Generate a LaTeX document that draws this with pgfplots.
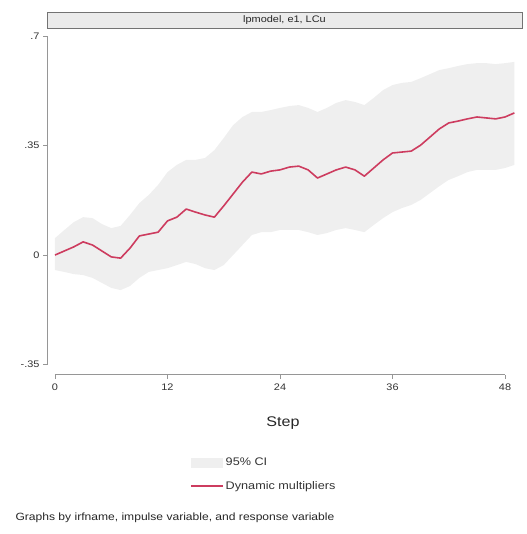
\documentclass[border=0pt]{standalone}
\usepackage{fontspec}
\setmainfont[FakeStretch=1.15]{Liberation Sans}
\usepackage{pgfplots}
\pgfplotsset{compat=1.18}
\usepackage{pgfplotstable}
\usepgfplotslibrary{fillbetween}
\definecolor{ci}{RGB}{239,239,239}
\definecolor{irf}{RGB}{205,60,95}
\definecolor{axgray}{RGB}{150,150,150}

\pgfplotstableread{
step lo up irf
0 -0.048 0.054 0.000
1 -0.054 0.080 0.013
2 -0.061 0.105 0.026
3 -0.064 0.121 0.042
4 -0.073 0.118 0.032
5 -0.089 0.099 0.013
6 -0.105 0.086 -0.006
7 -0.112 0.093 -0.010
8 -0.099 0.128 0.022
9 -0.073 0.166 0.061
10 -0.054 0.192 0.067
11 -0.048 0.224 0.073
12 -0.042 0.265 0.109
13 -0.032 0.288 0.121
14 -0.022 0.304 0.147
15 -0.029 0.304 0.137
16 -0.042 0.310 0.128
17 -0.048 0.335 0.121
18 -0.032 0.374 0.157
19 0.000 0.415 0.195
20 0.032 0.441 0.233
21 0.064 0.457 0.265
22 0.073 0.457 0.259
23 0.073 0.463 0.268
24 0.080 0.470 0.272
25 0.080 0.476 0.281
26 0.080 0.479 0.284
27 0.073 0.470 0.272
28 0.064 0.457 0.246
29 0.070 0.470 0.259
30 0.080 0.486 0.272
31 0.086 0.495 0.281
32 0.080 0.489 0.272
33 0.073 0.479 0.252
34 0.096 0.502 0.278
35 0.118 0.527 0.304
36 0.137 0.543 0.326
37 0.150 0.550 0.329
38 0.160 0.553 0.332
39 0.176 0.565 0.351
40 0.198 0.578 0.377
41 0.220 0.591 0.403
42 0.240 0.597 0.422
43 0.252 0.604 0.428
44 0.265 0.610 0.435
45 0.272 0.613 0.441
46 0.272 0.613 0.438
47 0.272 0.610 0.435
48 0.278 0.613 0.441
49 0.288 0.617 0.454
}\irfdata

\begin{document}
\begin{tikzpicture}
\begin{axis}[
  at={(0,0)}, anchor=south west,
  x=9.375pt, y=313pt,
  xmin=-0.853, xmax=49.8, ymin=-0.382, ymax=0.725,
  axis lines*=left, axis line style={draw=none},
  xtick={0,12,24,36,48},
  ytick={-0.35,0,0.35,0.7},
  yticklabels={-.35,0,.35,.7},
  /pgf/number format/assume math mode=true,
  tick align=outside,
  major tick length=4pt,
  tick style={axgray, line width=0.6pt},
  ticklabel style={font=\fontsize{9.5}{10}\selectfont, text=black!80},
  xticklabel style={yshift=-2pt},
  xlabel={Step},
  xlabel style={at={(axis description cs:0.497,-0.1397)}, anchor=center, font=\fontsize{14}{16}\selectfont, text=black!85},
  legend style={at={(axis description cs:0.301,-0.235)}, anchor=north west, draw=none, fill=none,
    font=\fontsize{11}{12}\selectfont, inner sep=0pt, row sep=10pt, text=black!80},
  legend cell align=left,
  clip=false,
]
\addplot[name path=up, draw=none, forget plot] table[x=step, y=up] {\irfdata};
\addplot[name path=lo, draw=none, forget plot] table[x=step, y=lo] {\irfdata};
\addplot[fill=ci, draw=none, area legend,
  legend image code/.code={\fill[ci] (0pt,-5pt) rectangle (32pt,5pt);}] fill between[of=up and lo];
\addlegendentry{95\% CI}
\addplot[irf, line width=1.6pt, line join=round,
  legend image code/.code={\draw[irf, line width=1.6pt] (0pt,0pt) -- (32pt,0pt);}] table[x=step, y=irf] {\irfdata};
\addlegendentry{Dynamic multipliers}
\draw[axgray, line width=0.8pt] (axis cs:-0.853,-0.35) -- (axis cs:-0.853,0.7);
\draw[axgray, line width=0.8pt] (axis cs:0,-0.382) -- (axis cs:48,-0.382);
\end{axis}
\draw[fill=black!8, draw=black!55, line width=0.7pt] (0pt,346.6pt) rectangle (475pt,362.6pt);
\node[font=\fontsize{9.5}{10}\selectfont, text=black!85] at (237.5pt,354.6pt) {lpmodel, e1, LCu};
\node[anchor=west, font=\fontsize{10.5}{12}\selectfont, text=black!85] at (-35pt,-143.4pt) {Graphs by irfname, impulse variable, and response variable};
\pgfresetboundingbox
\path[use as bounding box] (-47pt,-159.4pt) rectangle (479pt,374.6pt);
\end{tikzpicture}
\end{document}
